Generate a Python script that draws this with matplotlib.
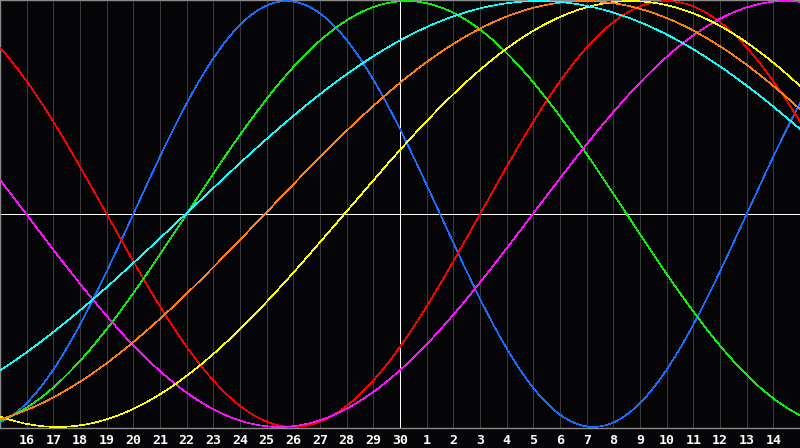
import numpy as np
import matplotlib
matplotlib.use("Agg")
import matplotlib.pyplot as plt

# Day labels on the grid lines (index 1..29); index 15 = today (30)
day_labels = [16, 17, 18, 19, 20, 21, 22, 23, 24, 25, 26, 27, 28, 29, 30,
              1, 2, 3, 4, 5, 6, 7, 8, 9, 10, 11, 12, 13, 14]
today_index = 15
n_days = 30

# Biorhythm cycles: period (days) and day index of ascending zero crossing
cycle_names = ["physical", "emotional", "intellectual", "intuitive",
               "aesthetic", "awareness", "spiritual"]
cycle_periods = [23, 28, 33, 38, 43, 48, 53]
cycle_zero_day = [5.0, -10.0, 7.0, 19.98, 12.91, 9.93, 6.96]
cycle_colors = ["#1a6cff", "#ff0000", "#10f010", "#ff10ff",
                "#ffff00", "#ff8010", "#10ffff"]

BG = "#050508"
W, H = 800, 448
LW = 0.72  # 1 px at 100 dpi
fig = plt.figure(figsize=(W / 100, H / 100), dpi=100, facecolor=BG)
ax = fig.add_axes([0, 20 / H, 1, 428 / H])
ax.set_facecolor(BG)
ax.set_xlim(0, n_days)
ax.set_ylim(-1.005, 1.005)

# vertical day grid
for i in range(1, n_days):
    ax.axvline(i, color="#3a3a3a", lw=LW, antialiased=False, zorder=1)

t = np.linspace(0, n_days, 3000)
for p, z, c in zip(cycle_periods, cycle_zero_day, cycle_colors):
    ax.plot(t, np.sin(2 * np.pi * (t - z) / p), color=c, lw=0.45,
            antialiased=False, zorder=3)

# zero line and today line
ax.axhline(0, color="white", lw=LW, antialiased=False, zorder=2)
ax.axvline(today_index, color="white", lw=LW, antialiased=False, zorder=2)

for s in ["top", "left", "bottom"]:
    ax.spines[s].set_color("#8a8a8a")
    ax.spines[s].set_linewidth(1.0)
ax.spines["right"].set_visible(False)

ax.set_xticks(range(1, n_days))
ax.set_xticklabels([str(d) for d in day_labels])
ax.tick_params(axis="x", length=0, pad=4.5, colors="white", labelsize=9.5)
for lab in ax.get_xticklabels():
    lab.set_fontfamily("DejaVu Sans Mono")
    lab.set_fontweight("bold")
ax.set_yticks([])

fig.savefig("out.png", dpi=100, facecolor=BG)
